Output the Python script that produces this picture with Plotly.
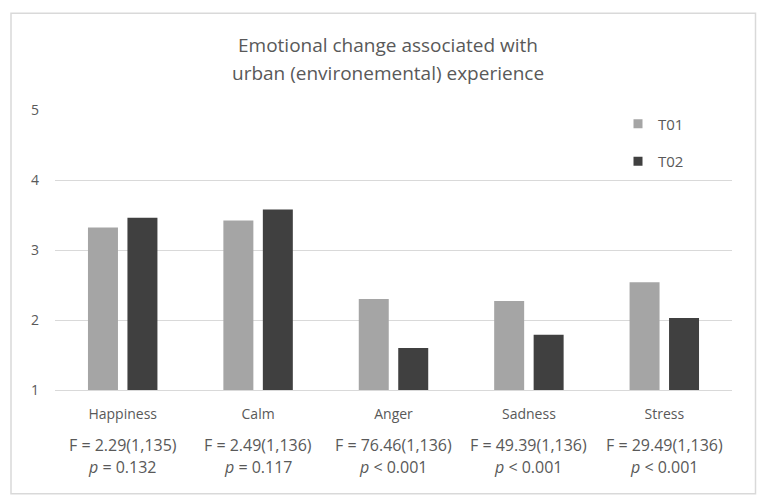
import plotly.graph_objects as go

categories = ["Happiness", "Calm", "Anger", "Sadness", "Stress"]
t01 = [3.32, 3.42, 2.30, 2.27, 2.54]
t02 = [3.46, 3.58, 1.60, 1.79, 2.03]
series_names = ["T01", "T02"]
series_colors = ["#a5a5a5", "#404040"]
f_stats = ["F = 2.29(1,135)", "F = 2.49(1,136)", "F = 76.46(1,136)", "F = 49.39(1,136)", "F = 29.49(1,136)"]
p_stats = ["= 0.132", "= 0.117", "< 0.001", "< 0.001", "< 0.001"]
y_ticks = [1, 2, 3, 4, 5]
title_lines = ["Emotional change associated with", "urban (environemental) experience"]

W, H = 766, 504
L, R, T, B = 55, 732, 109.5, 390.5
FONT = "Open Sans"
TXT = "#595959"

fig = go.Figure()
for name, vals, col, grp in zip(series_names, [t01, t02], series_colors, ["a", "b"]):
    fig.add_trace(go.Bar(name=name, x=categories, y=vals, marker_color=col,
                         marker_line_width=0, showlegend=False, legendgroup=grp))
    # legend entry with a small square swatch
    fig.add_trace(go.Scatter(name=name, x=[None], y=[None], mode="markers",
                             marker=dict(symbol="square", size=9, color=col),
                             showlegend=True, legendgroup=grp))

def px(x):
    return (x - L) / (R - L)

def py(y):
    return (B - y) / (B - T)

annotations = []
for c, f, p in zip(categories, f_stats, p_stats):
    annotations.append(dict(x=c, xref="x", y=py(445.5), yref="paper", text=f,
                            showarrow=False, font=dict(family=FONT, size=16, color=TXT),
                            xanchor="center", yanchor="middle"))
    annotations.append(dict(x=c, xref="x", y=py(467.5), yref="paper", text="<i>p</i> " + p,
                            showarrow=False, font=dict(family=FONT, size=16, color=TXT),
                            xanchor="center", yanchor="middle"))
for i, line in enumerate(title_lines):
    annotations.append(dict(x=px(388), xref="paper", y=py(44.5 + 28 * i), yref="paper", text=line,
                            showarrow=False, font=dict(family=FONT, size=19, color=TXT),
                            xanchor="center", yanchor="middle"))

fig.update_layout(
    width=W, height=H,
    margin=dict(l=L, r=W - R, t=T, b=H - B, pad=0),
    paper_bgcolor="white", plot_bgcolor="white",
    barmode="group", bargap=0.417, bargroupgap=0.24,
    showlegend=True,
    legend=dict(x=px(618), y=py(107), xanchor="left", yanchor="top",
                font=dict(family=FONT, size=15, color=TXT),
                tracegroupgap=15, bgcolor="rgba(0,0,0,0)", itemwidth=30),
    font=dict(family=FONT, color=TXT),
    annotations=annotations,
    shapes=[dict(type="rect", xref="paper", yref="paper",
                 x0=px(11), x1=px(755.5), y0=py(494.5), y1=py(12.5),
                 line=dict(color="#d9d9d9", width=1.5), layer="below")],
)
fig.update_xaxes(showgrid=False, showline=True, linecolor="#d9d9d9", linewidth=1,
                 ticks="", tickfont=dict(family=FONT, size=14, color=TXT), ticklabelstandoff=11)
fig.update_yaxes(range=[1, 5], tickvals=y_ticks, showgrid=True, gridcolor="#d9d9d9",
                 gridwidth=1, zeroline=False, showline=False, ticks="",
                 tickfont=dict(family=FONT, size=14, color=TXT), ticklabelstandoff=15)

fig.write_html("out.html", config={"displayModeBar": False},
               post_script="document.body.style.margin='0';document.body.style.overflow='hidden';")
